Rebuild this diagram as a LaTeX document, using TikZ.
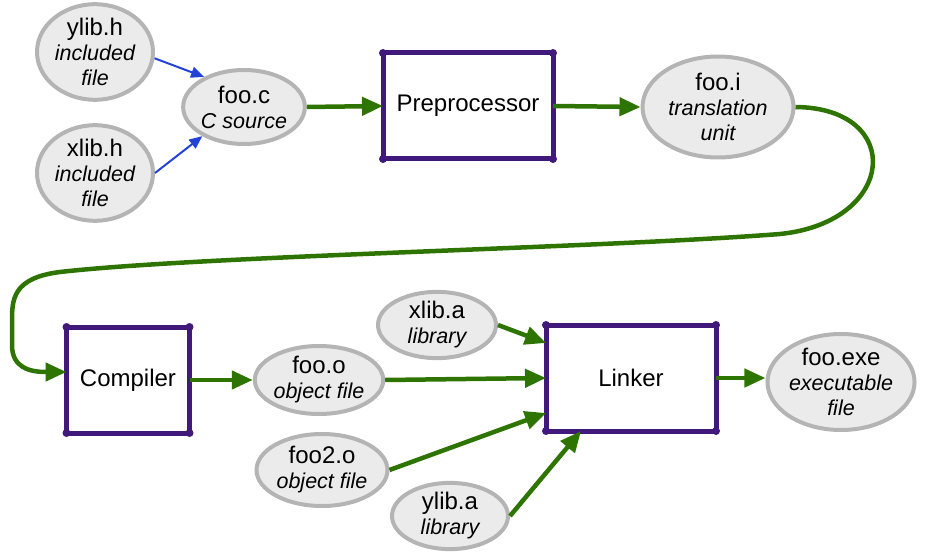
\documentclass[tikz,border=0pt]{standalone}
\usepackage{fontspec}
\setmainfont{Liberation Sans}
\usetikzlibrary{shapes.geometric,arrows.meta}

\definecolor{filefill}{HTML}{EBEBEB}
\definecolor{fileedge}{HTML}{B4B4B4}
\definecolor{toolline}{HTML}{40197A}
\definecolor{flowgreen}{HTML}{2E7400}
\definecolor{inclblue}{HTML}{2343D6}

\newcommand{\filerole}[1]{{\fontsize{21.5}{25}\selectfont\itshape #1}}

\tikzset{
  file/.style={ellipse, draw=fileedge, fill=filefill, line width=4pt,
    inner sep=0pt, align=center, font=\fontsize{24}{25}\selectfont},
  tool/.style={rectangle, draw=toolline, line width=5pt, outer sep=0pt,
    font=\fontsize{24}{26}\selectfont},
  flow/.style={draw=flowgreen, line width=4.5pt,
    -{Triangle[length=21pt,width=18pt]}},
  incl/.style={draw=inclblue, line width=2pt,
    -{Triangle[length=13pt,width=11pt]}},
}

\begin{document}
\begin{tikzpicture}[x=1pt,y=-1pt]
  \useasboundingbox (0,0) rectangle (925,553);

  % source side
  \node[file, minimum width=116, minimum height=88] (ylibh) at (95,52)
    {ylib.h\\\filerole{included}\\\filerole{file}};
  \node[file, minimum width=116, minimum height=88] (xlibh) at (95,173)
    {xlib.h\\\filerole{included}\\\filerole{file}};
  \node[file, minimum width=120, minimum height=74] (fooc) at (244,107)
    {foo.c\\\filerole{C source}};
  \node[tool, minimum width=170, minimum height=106] (pre) at (468,106)
    {Preprocessor};
  \node[file, minimum width=151, minimum height=101] (fooi) at (718,107)
    {foo.i\\\filerole{translation}\\\filerole{unit}};

  % object side
  \node[tool, minimum width=123, minimum height=106] (comp) at (128,380)
    {Compiler};
  \node[file, minimum width=128, minimum height=68] (fooo) at (319,380)
    {foo.o\\\filerole{object file}};
  \node[file, minimum width=131, minimum height=72] (foooo) at (322,470)
    {foo2.o\\\filerole{object file}};
  \node[file, minimum width=118, minimum height=56] (xliba) at (437,325)
    {xlib.a\\\filerole{library}};
  \node[file, minimum width=116, minimum height=60] (yliba) at (450,516)
    {ylib.a\\\filerole{library}};
  \node[tool, minimum width=170, minimum height=106] (link) at (631,378)
    {Linker};
  \node[file, minimum width=138, minimum height=96] (fooexe) at (841,382)
    {foo.exe\\\filerole{executable}\\\filerole{file}};

  \foreach \n in {pre,comp,link}
    \foreach \c in {north west,north east,south west,south east}
      \fill[toolline] (\n.\c) circle (4pt);

  \draw[incl] (ylibh.-6) -- (fooc.143);
  \draw[incl] (xlibh.east) -- (fooc.215);

  \draw[flow] (fooc.east) -- (pre.west);
  \draw[flow] (pre.east) -- (fooi.west);
  \draw[flow] (fooi.east) .. controls (905,108) and (897,222) .. (780,234)
    .. controls (600,248) and (200,256) .. (60,272)
    .. controls (12,278) and (12,300) .. (12,322) -- (12,345)
    .. controls (12,368) and (30,372) .. ([yshift=8pt]comp.west);
  \draw[flow] (comp.east) -- (comp.east -| fooo.west);
  \draw[flow] (fooo.east) -- (link.west);
  \draw[flow] (xliba.east) -- ([yshift=35pt]link.west);
  \draw[flow] (foooo.east) -- ([yshift=-35pt]link.west);
  \draw[flow] (yliba.east) -- ([xshift=-50pt]link.south);
  \draw[flow] (link.east) -- (link.east -| fooexe.west);
\end{tikzpicture}
\end{document}
